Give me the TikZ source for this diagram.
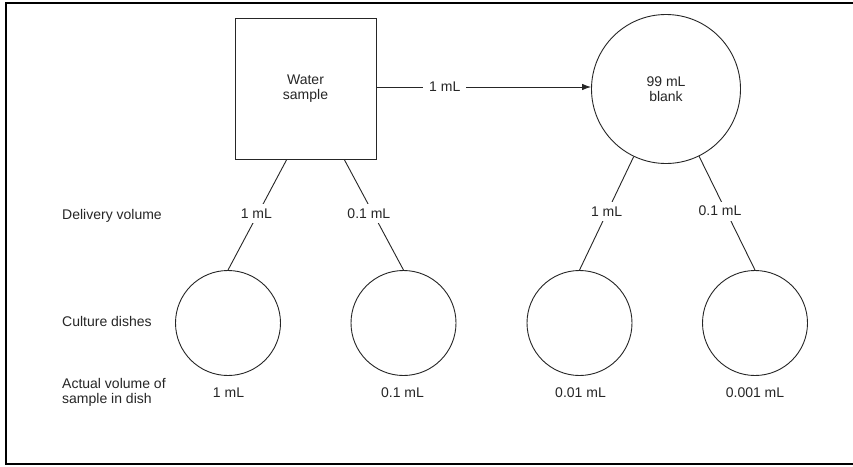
\documentclass[tikz,border=0pt]{standalone}
\usepackage{fontspec}
\setmainfont{Liberation Sans}
\usetikzlibrary{arrows.meta,calc}
\begin{document}
\begin{tikzpicture}[x=1pt,y=-1pt,
  every node/.style={font=\fontsize{14}{15}\selectfont, text=black!85},
  conn/.style={draw=black!85, line width=0.9pt},
  shapebox/.style={draw=black!85, line width=0.9pt, rectangle, minimum width=141pt, minimum height=141pt, inner sep=0pt, align=center},
  bigcirc/.style={draw=black!85, line width=0.9pt, circle, minimum size=149pt, inner sep=0pt, align=center},
  dish/.style={draw=black!85, line width=0.9pt, circle, minimum size=105pt, inner sep=0pt},
  lbl/.style={fill=white, inner xsep=3pt, inner ysep=4.5pt},
  rowlbl/.style={anchor=west, align=left, inner sep=0pt}
]
\useasboundingbox (0,0) rectangle (853,466);
\fill[white] (0,0) rectangle (853,466);
% frame
\draw[line width=2pt, black] (860,2.8) -- (6,2.8) -- (6,463.5) -- (860,463.5);

% main nodes
\node[shapebox] (water) at (305.5,88.5) {Water\\sample};
\node[bigcirc] (blank) at (666,89) {99 mL\\blank};

\node[dish] (d1) at (228,323) {};
\node[dish] (d2) at (403.5,323) {};
\node[dish] (d3) at (579.5,323) {};
\node[dish] (d4) at (755,323) {};

\coordinate (wl) at ($(water.south west)!0.368!(water.south east)$);
\coordinate (wr) at ($(water.south west)!0.773!(water.south east)$);

% arrow
\draw[conn, -{Latex[length=9pt,width=6.5pt]}] (water.east |- 0,87) -- node[lbl, inner xsep=6pt, inner ysep=2pt, xshift=-39pt]{1 mL} (blank.west |- 0,87);

% branches
\draw[conn] (wl) -- node[lbl, xshift=-1pt, yshift=1pt]{1 mL} (d1.north);
\draw[conn] (wr) -- node[lbl, xshift=-5pt, yshift=1pt]{0.1 mL} (d2.north);
\draw[conn] (blank) -- node[lbl, yshift=2pt]{1 mL} (d3.north);
\draw[conn] (blank) -- node[lbl, xshift=-7pt, yshift=2pt]{0.1 mL} (d4.north);

% row labels
\node[rowlbl] (rdel) at (62,216) {Delivery volume};
\node[rowlbl] (rcul) at (62,321) {Culture dishes};
\node[rowlbl] (ract) at (62,392) {Actual volume of\\sample in dish};

% bottom values
\node (v1) at (228.5,393) {1 mL};
\node (v2) at (402.5,393) {0.1 mL};
\node (v3) at (580.5,393) {0.01 mL};
\node (v4) at (755,393) {0.001 mL};
\end{tikzpicture}
\end{document}
